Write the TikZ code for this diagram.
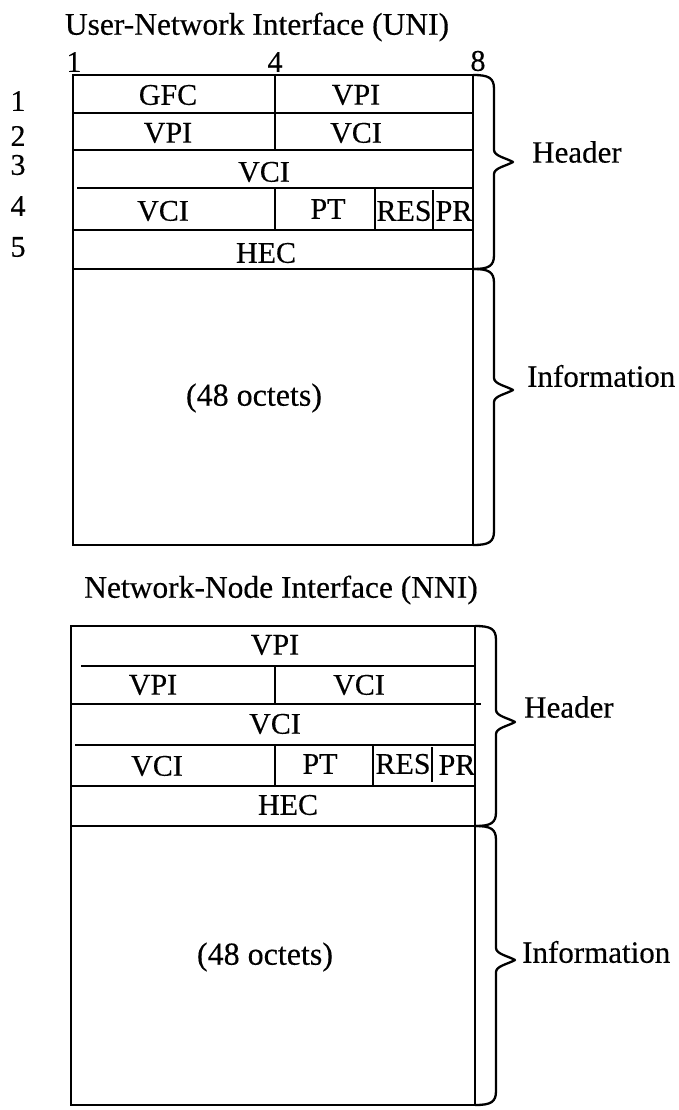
\documentclass[tikz,border=0pt]{standalone}
\usepackage{fontspec}
\setmainfont{Liberation Serif}[FakeBold=0.35]
% curly brace on the right of a cell block: x0, top, tip, bottom
\newcommand\cellbrace[4]{%
  \draw[bracel] (#1,#2) .. controls ({#1+16},#2) and ({#1+21},{#2+3}) .. ({#1+21},{#2+14})
    -- ({#1+21},{#3-12}) .. controls ({#1+21},{#3-6}) and ({#1+33},{#3-4}) .. ({#1+40},#3)
    .. controls ({#1+33},{#3+4}) and ({#1+21},{#3+6}) .. ({#1+21},{#3+12})
    -- ({#1+21},{#4-14}) .. controls ({#1+21},{#4-3}) and ({#1+16},#4) .. (#1,#4);}
\begin{document}
\begin{tikzpicture}[x=1pt,y=-1pt,
  frame/.style={line width=2.5pt},
  bracel/.style={line width=2.3pt, line join=round},
  lbl/.style={font=\fontsize{30}{36}\selectfont, inner sep=0pt},
  title/.style={font=\fontsize{31.5}{38}\selectfont, inner sep=0pt},
  side/.style={font=\fontsize{31}{37}\selectfont, inner sep=0pt, anchor=west}]
\useasboundingbox (0,0) rectangle (678,1110);

% ---------------- User-Network Interface ----------------
\node[title] (unititle) at (257,27) {User-Network Interface (UNI)};
\node[lbl] (c1) at (74,62) {1};
\node[lbl] (c4) at (275,62) {4};
\node[lbl] (c8) at (478,61) {8};
\foreach \n/\y in {1/101,2/136,3/165,4/206,5/247}
  \node[lbl] (r\n) at (18,\y) {\n};

\draw[frame] (73,75) rectangle (473,545);
\draw[frame] (73,113) -- (473,113);
\draw[frame] (73,150) -- (473,150);
\draw[frame] (77,188) -- (473,188);
\draw[frame] (73,230) -- (473,230);
\draw[frame] (73,269) -- (473,269);
\draw[frame] (275,75) -- (275,150);
\draw[frame] (275,188) -- (275,230);
\draw[frame] (375,188) -- (375,230);
\draw[frame] (433,190) -- (433,230);

\node[lbl] (ugfc) at (168,95) {GFC};
\node[lbl] (uvpi1) at (356,95) {VPI};
\node[lbl] (uvpi2) at (168,133) {VPI};
\node[lbl] (uvci2) at (356,133) {VCI};
\node[lbl] (uvci3) at (264,172) {VCI};
\node[lbl] (uvci4) at (163,211) {VCI};
\node[lbl] (upt) at (328,209) {PT};
\node[lbl] (ures) at (404,211) {RES};
\node[lbl] (upr) at (454,211) {PR};
\node[lbl] (uhec) at (266,253) {HEC};
\node[lbl, font=\fontsize{32}{38}\selectfont] (uinfo) at (254,398) {(48 octets)};

\cellbrace{473}{75}{162}{269}
\cellbrace{473}{269}{390}{545}
\node[side] (uhead) at (532,152) {Header};
\node[side] (uinf) at (527,376) {Information};

% ---------------- Network-Node Interface ----------------
\node[title] (nnititle) at (281,590) {Network-Node Interface (NNI)};

\draw[frame] (71,626) rectangle (475,1105);
\draw[frame] (81,666) -- (475,666);
\draw[frame] (71,704) -- (481,704);
\draw[frame] (75,745) -- (475,745);
\draw[frame] (71,786) -- (475,786);
\draw[frame] (71,826) -- (475,826);
\draw[frame] (275,666) -- (275,704);
\draw[frame] (275,745) -- (275,786);
\draw[frame] (373,745) -- (373,786);
\draw[frame] (432,747) -- (432,782);

\node[lbl] (nvpi1) at (275,645) {VPI};
\node[lbl] (nvpi2) at (153,685) {VPI};
\node[lbl] (nvci2) at (359,685) {VCI};
\node[lbl] (nvci3) at (275,724) {VCI};
\node[lbl] (nvci4) at (157,766) {VCI};
\node[lbl] (npt) at (320,764) {PT};
\node[lbl] (nres) at (403,764) {RES};
\node[lbl] (npr) at (457,765) {PR};
\node[lbl] (nhec) at (288,805) {HEC};
\node[lbl, font=\fontsize{32}{38}\selectfont] (ninfo) at (265,957) {(48 octets)};

\cellbrace{475}{626}{722}{826}
\cellbrace{475}{826}{960}{1105}
\node[side] (nhead) at (524,707) {Header};
\node[side] (ninf) at (522,952) {Information};
\end{tikzpicture}
\end{document}
